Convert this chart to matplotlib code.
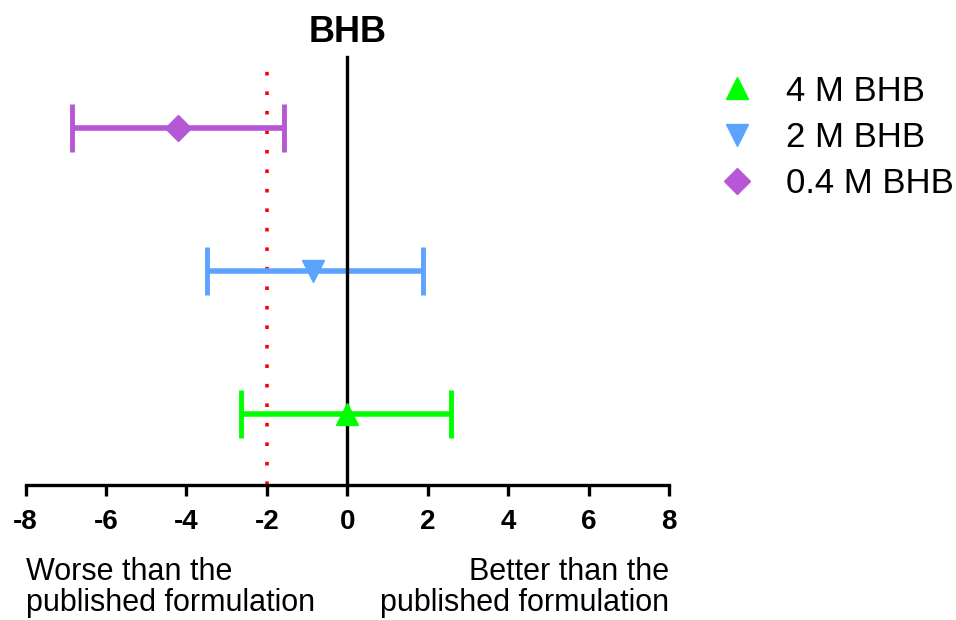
import matplotlib.pyplot as plt
from matplotlib.transforms import blended_transform_factory

plt.rcParams['font.family'] = ['Liberation Sans', 'DejaVu Sans']

# Разница с опубликованной рецептурой: среднее и границы интервала
groups = ["4 M BHB", "2 M BHB", "0.4 M BHB"]
means = [0.0, -0.85, -4.2]
lower = [-2.65, -3.5, -6.85]
upper = [2.57, 1.89, -1.58]
rows = [1, 2, 3]

colors = ["#00FF00", "#5CA3FF", "#B657D6"]
markers = ["^", "v", "D"]
sizes = [16, 16, 13]

threshold = -2
x_ticks = [-8, -6, -4, -2, 0, 2, 4, 6, 8]

fig = plt.figure(figsize=(9.56, 6.2), dpi=100)
ax = fig.add_axes([0.0267, 0.2177, 0.6731, 0.6903])

ax.axvline(threshold, color="red", lw=2.6, linestyle=(0, (1, 4.4)), zorder=1)

for name, m, lo, hi, y, c, mk, ms in zip(groups, means, lower, upper, rows,
                                         colors, markers, sizes):
    ax.errorbar(m, y, xerr=[[m - lo], [hi - m]], fmt="none", ecolor=c,
                elinewidth=4, capsize=17, capthick=3.5, zorder=2)
    ax.plot(m, y, linestyle="none", marker=mk, ms=ms, color=c, label=name,
            zorder=3)

ax.set_xlim(-8, 8)
ax.set_ylim(0.5, 3.5)

for side in ["top", "right"]:
    ax.spines[side].set_visible(False)
ax.spines["left"].set_position(("data", 0))
ax.spines["left"].set_linewidth(2.4)
ax.spines["bottom"].set_linewidth(2.4)
ax.set_yticks([])

ax.set_xticks(x_ticks)
ax.set_xticklabels([str(t) for t in x_ticks], fontsize=20, fontweight="bold")
ax.tick_params(axis="x", direction="out", length=8, width=2.4, pad=9)

ax.set_title("BHB", fontsize=26, fontweight="bold", pad=11)

trans = blended_transform_factory(ax.transData, fig.transFigure)
ax.text(-8, 0.052, "Worse than the\npublished formulation", transform=trans,
        fontsize=22, ha="left", va="center", linespacing=1.05)
ax.text(8, 0.052, "Better than the\npublished formulation", transform=trans,
        fontsize=22, ha="right", va="center", linespacing=1.05)

ax.legend(loc="upper left", bbox_to_anchor=(0.72, 0.93), bbox_transform=fig.transFigure,
          frameon=False, fontsize=25, handlelength=1.0, handletextpad=0.9,
          labelspacing=0.38, markerscale=1.0)

fig.savefig("out.png", dpi=100)
